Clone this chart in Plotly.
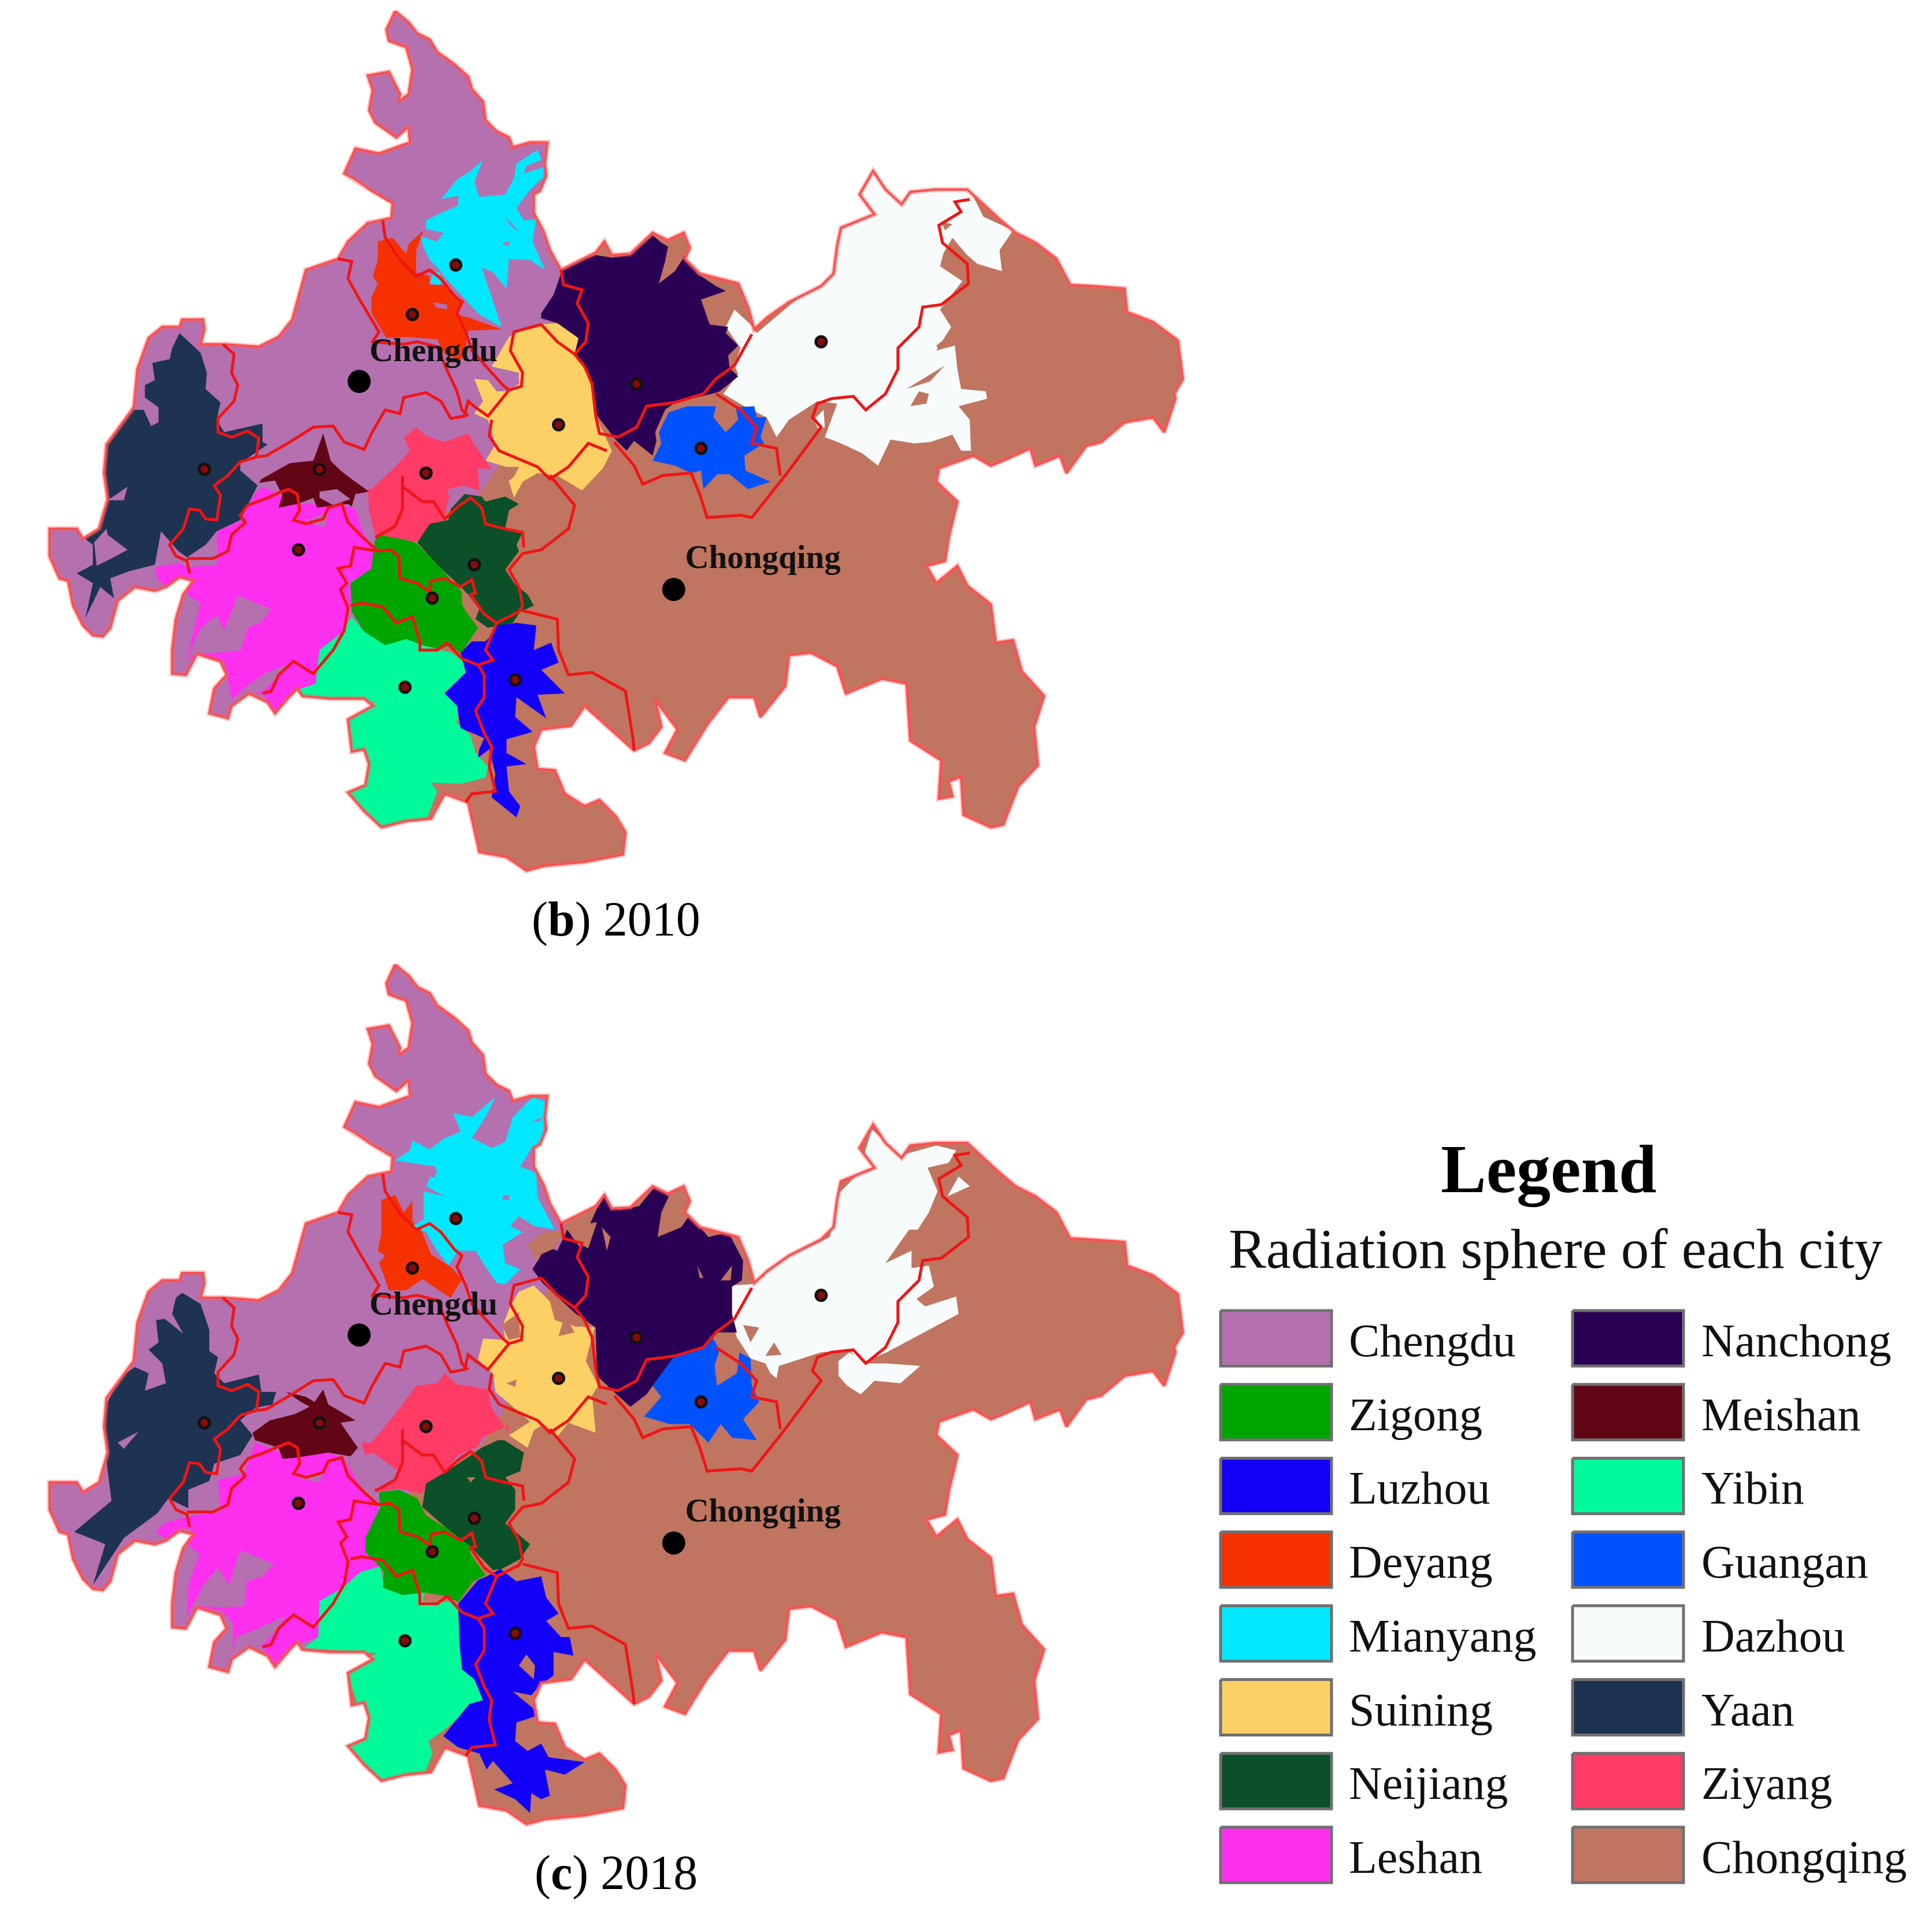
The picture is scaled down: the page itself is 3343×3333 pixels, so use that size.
import plotly.graph_objects as go

OUTLINE = [(319, 9), (330, 18), (337, 27), (347, 32), (353, 42), (367, 52), (378, 62), (381, 72), (390, 82), (392, 97),
           (401, 106), (411, 111), (414, 119), (428, 115), (442, 115), (440, 132), (441, 142), (436, 154), (431, 157),
           (431, 172), (439, 187), (444, 202), (453, 218), (467, 211), (481, 204), (488, 195), (494, 206), (509, 205),
           (527, 188), (539, 194), (552, 188), (557, 200), (553, 209), (565, 221), (580, 225), (596, 229), (604, 248),
           (609, 266), (620, 256), (637, 244), (663, 231), (673, 221), (676, 198), (679, 184), (706, 173), (694, 157),
           (705, 138), (715, 153), (728, 165), (735, 155), (755, 153), (781, 153), (807, 177), (820, 188), (836, 196),
           (853, 209), (864, 230), (882, 231), (908, 233), (910, 252), (931, 260), (951, 275), (955, 306), (948, 318),
           (949, 322), (940, 349), (931, 337), (908, 341), (889, 357), (877, 360), (861, 382), (856, 368), (836, 376),
           (832, 362), (810, 372), (800, 376), (786, 368), (758, 378), (756, 389), (773, 405), (766, 434), (763, 453),
           (748, 457), (756, 471), (773, 457), (781, 473), (800, 488), (804, 519), (818, 517), (825, 542), (843, 562),
           (835, 587), (838, 618), (822, 635), (810, 666), (800, 668), (778, 658), (776, 627), (766, 631), (769, 643),
           (758, 645), (760, 614), (735, 598), (732, 552), (712, 548), (683, 560), (676, 538), (655, 527), (637, 529),
           (634, 554), (614, 579), (609, 563), (588, 563), (571, 585), (553, 614), (537, 608), (547, 589), (529, 565),
           (534, 587), (524, 600), (512, 606), (486, 583), (472, 570), (461, 586), (437, 589), (431, 603), (434, 621),
           (448, 622), (456, 641), (472, 651), (484, 646), (497, 659), (505, 672), (503, 690), (472, 696), (440, 699),
           (425, 703), (409, 692), (387, 688), (383, 670), (378, 648), (359, 641), (348, 661), (328, 663), (308, 668),
           (294, 655), (281, 640), (295, 634), (298, 617), (294, 605), (284, 607), (281, 581), (301, 570), (294, 564),
           (266, 564), (244, 562), (240, 556), (234, 562), (222, 576), (216, 567), (201, 560), (187, 570), (184, 580),
           (169, 576), (173, 556), (183, 545), (178, 534), (159, 528), (150, 545), (139, 544), (139, 525), (142, 500),
           (148, 480), (156, 469), (145, 466), (134, 474), (125, 477), (109, 474), (95, 485), (89, 507), (83, 514),
           (75, 513), (67, 505), (59, 489), (55, 469), (48, 467), (40, 449), (40, 427), (62, 427), (67, 435), (80, 427),
           (87, 403), (84, 382), (86, 359), (101, 339), (108, 329), (111, 298), (120, 273), (131, 264), (145, 264),
           (147, 258), (164, 258), (165, 266), (162, 278), (181, 278), (209, 280), (225, 272), (236, 258), (247, 218),
           (273, 209), (281, 195), (297, 180), (316, 176), (317, 164), (300, 154), (287, 145), (278, 140), (287, 120),
           (306, 124), (331, 115), (330, 102), (320, 111), (303, 99), (298, 89), (301, 73), (297, 61), (314, 58),
           (323, 76), (322, 82), (330, 76), (333, 56), (328, 38), (314, 33), (312, 24), (319, 9)]

WEST = [(0, 0), (470, 0), (458, 215), (445, 262), (405, 372), (388, 398), (340, 425), (300, 470), (285, 520),
        (230, 640), (0, 640)]

BORDERS = [
    [(180, 278), (189, 286), (187, 301), (192, 311), (189, 324), (176, 338), (176, 349), (187, 353), (200, 348),
     (209, 354), (207, 369), (194, 373), (184, 384), (173, 392), (178, 400), (175, 420), (166, 419), (161, 412),
     (153, 411), (148, 427), (137, 440), (142, 449), (151, 453), (153, 463)],
    [(151, 451), (172, 451), (184, 445), (187, 432), (198, 422), (194, 416), (200, 408), (216, 402), (225, 398),
     (233, 395), (240, 399), (242, 412), (237, 420), (247, 423), (261, 419), (265, 410), (276, 407), (281, 422),
     (294, 435), (305, 445)],
    [(207, 369), (215, 368), (234, 357), (253, 345), (269, 344), (278, 357), (294, 363), (300, 350), (311, 331),
     (323, 334), (326, 321), (344, 317), (356, 324), (364, 338), (375, 336), (378, 324), (384, 329), (394, 336),
     (411, 315), (421, 312), (422, 301), (412, 283), (415, 268), (437, 262)],
    [(273, 209), (284, 211), (281, 225), (291, 243), (300, 258), (306, 268), (301, 276), (325, 278), (337, 276),
     (353, 280), (361, 299), (369, 316), (373, 331), (378, 336)],
    [(309, 178), (311, 192), (323, 210), (336, 223), (347, 218), (356, 225), (367, 239), (373, 244), (369, 253),
     (376, 268), (381, 283), (394, 298), (406, 311), (411, 315)],
    [(453, 218), (455, 230), (470, 234), (466, 245), (475, 261), (473, 276), (464, 286)],
    [(437, 262), (450, 276), (464, 286), (472, 296), (478, 310), (481, 336), (484, 350), (499, 353), (514, 345),
     (522, 328), (545, 325), (568, 318), (578, 306), (593, 295), (607, 270)],
    [(496, 357), (512, 376), (519, 391), (535, 384), (558, 382), (565, 399), (571, 418), (598, 416), (607, 418),
     (634, 384), (663, 345), (656, 337), (660, 326), (671, 322), (689, 320), (699, 331), (715, 318), (725, 298),
     (725, 281), (742, 264), (745, 248), (760, 246), (782, 229), (781, 213), (761, 196), (758, 182), (776, 171),
     (771, 163), (783, 161)],
    [(578, 318), (598, 331), (611, 345), (607, 358), (627, 362), (630, 384)],
    [(397, 339), (395, 352), (403, 364), (422, 372), (434, 377), (444, 387), (459, 377), (475, 358), (490, 364)],
    [(444, 384), (464, 408), (459, 427), (437, 444), (422, 447), (411, 460), (419, 474), (422, 489), (419, 494),
     (401, 503), (391, 496), (380, 480), (384, 479), (381, 468), (372, 474), (359, 467), (348, 469), (347, 478),
     (337, 471), (323, 467), (322, 449), (315, 444), (305, 445)],
    [(325, 384), (325, 411), (319, 425), (303, 434)],
    [(325, 393), (341, 405), (350, 405), (359, 419), (370, 409), (380, 402), (389, 410), (392, 423), (403, 426),
     (422, 430), (423, 442)],
    [(283, 489), (292, 487), (309, 490), (320, 503), (333, 498), (339, 518), (339, 525), (353, 525), (361, 519),
     (373, 532), (386, 537), (398, 533), (392, 525), (401, 503)],
    [(305, 445), (286, 442), (283, 457), (273, 459), (280, 471), (275, 476), (281, 491), (278, 509), (269, 525),
     (253, 544), (237, 534), (225, 545), (219, 558), (212, 560)],
    [(386, 537), (391, 545), (391, 563), (384, 574), (391, 592), (397, 603), (395, 619), (400, 639), (381, 641),
     (376, 648)],
    [(422, 493), (450, 500), (451, 525), (459, 545), (478, 543), (494, 552), (505, 558), (511, 596), (512, 606)],
]

# 2010 spheres
LESHAN_2010 = [(205, 400), (212, 393), (223, 398), (240, 407), (275, 407), (287, 411), (292, 427), (305, 451),
               (300, 461), (283, 469), (283, 489), (278, 509), (272, 513), (258, 525), (255, 543), (256, 554),
               (240, 557), (222, 577), (212, 560), (201, 560), (187, 565), (184, 550), (181, 534), (151, 532),
               (156, 510), (162, 487), (151, 480), (151, 470), (147, 469), (137, 475), (128, 469), (125, 458),
               (145, 455), (151, 458), (175, 456), (176, 449), (175, 429), (194, 421)]
LESHAN_HOLES_2010 = [[(175, 497), (181, 509), (192, 481), (219, 492), (211, 502), (200, 507), (194, 525), (178, 527),
                      (159, 528), (151, 532), (162, 507)],
                     [(187, 565), (197, 556), (215, 543), (231, 537), (222, 549), (212, 558)],
                     [(247, 421), (265, 413), (262, 426)]]
YAAN_2010 = [(145, 269), (162, 285), (167, 301), (166, 314), (178, 325), (175, 339), (181, 349), (212, 342),
             (212, 357), (216, 359), (194, 374), (194, 380), (208, 392), (194, 420), (175, 429), (166, 440),
             (151, 450), (144, 445), (130, 429), (125, 456), (105, 461), (89, 467), (92, 483), (81, 474), (69, 499),
             (75, 471), (62, 463), (75, 456), (75, 440), (61, 429), (67, 435), (80, 427), (86, 402), (84, 382),
             (86, 359), (103, 331), (116, 331), (122, 344), (128, 341), (128, 329), (117, 321), (117, 311),
             (125, 307), (123, 293), (137, 290), (139, 281)]
YAAN_HOLES_2010 = [[(87, 404), (103, 393), (100, 404)],
                   [(83, 413), (87, 432), (103, 444), (92, 450), (78, 457), (76, 438), (86, 427)]]
MEISHAN_2010 = [(261, 350), (253, 372), (234, 374), (211, 387), (209, 390), (222, 388), (228, 400), (225, 410),
                (240, 407), (253, 402), (256, 410), (270, 408), (281, 407), (284, 409), (287, 399), (298, 397),
                (284, 387), (275, 380), (267, 372)]
MEISHAN_HOLES_2010 = [[(258, 397), (272, 395), (283, 403), (269, 408), (258, 402)]]
ZIYANG_2010 = [(336, 345), (344, 352), (359, 357), (378, 350), (383, 359), (397, 379), (386, 378), (387, 396),
               (365, 395), (361, 407), (359, 418), (336, 437), (309, 438), (303, 432), (298, 413), (297, 395),
               (300, 395), (319, 377), (331, 364), (326, 354)]
ZIYANG_HOLES_2010 = [[(361, 395), (375, 392), (386, 396), (364, 407)]]
NEIJIANG_2010 = [(364, 411), (375, 399), (389, 401), (392, 405), (408, 401), (419, 407), (411, 412), (408, 426),
                 (422, 430), (417, 440), (419, 445), (408, 460), (416, 472), (426, 480), (431, 489), (420, 494),
                 (414, 503), (394, 507), (384, 500), (387, 492), (378, 480), (369, 471), (353, 456), (337, 438),
                 (347, 423), (362, 420)]
ZIGONG_2010 = [(303, 436), (306, 432), (328, 436), (337, 439), (355, 458), (367, 471), (373, 478), (373, 487),
               (375, 492), (386, 507), (376, 522), (372, 528), (364, 521), (355, 524), (341, 521), (328, 516),
               (311, 521), (294, 510), (284, 494), (283, 471), (300, 459), (301, 448)]
YIBIN_2010 = [(284, 498), (294, 510), (311, 521), (328, 516), (341, 521), (364, 527), (381, 538), (372, 549),
              (359, 559), (370, 570), (369, 584), (380, 594), (384, 608), (394, 619), (392, 628), (372, 633),
              (348, 632), (353, 639), (344, 663), (309, 672), (278, 639), (284, 596), (278, 578), (303, 567),
              (247, 565), (240, 557), (255, 552), (258, 525), (275, 512)]
LUZHOU_2010 = [(401, 505), (417, 503), (433, 505), (431, 525), (445, 519), (451, 535), (437, 541), (456, 560),
               (434, 561), (441, 580), (417, 563), (416, 579), (430, 591), (409, 597), (409, 608), (425, 617),
               (409, 619), (411, 639), (420, 651), (417, 660), (397, 644), (400, 625), (395, 605), (386, 612),
               (387, 605), (391, 596), (372, 588), (369, 570), (359, 560), (376, 543), (372, 527), (381, 518),
               (392, 518), (400, 509)]
DEYANG_2010 = [(305, 195), (317, 192), (328, 205), (330, 197), (342, 186), (336, 202), (336, 220), (347, 223),
               (347, 230), (359, 230), (367, 239), (375, 243), (369, 254), (380, 257), (405, 266), (378, 267),
               (376, 281), (372, 291), (359, 286), (353, 274), (328, 272), (312, 273), (306, 263), (300, 253),
               (300, 240), (305, 229), (301, 223), (305, 210)]
DEYANG_HOLES_2010 = [[(350, 244), (361, 246), (361, 250), (352, 248)]]
MIANYANG_2010 = [(390, 129), (383, 147), (387, 159), (408, 157), (415, 144), (417, 132), (434, 121), (437, 129),
                 (425, 134), (423, 140), (439, 135), (439, 143), (428, 153), (417, 168), (423, 178), (433, 177),
                 (430, 195), (440, 218), (428, 210), (411, 209), (409, 233), (398, 220), (389, 216), (395, 234),
                 (405, 264), (387, 254), (373, 239), (359, 224), (355, 218), (347, 210), (342, 200), (340, 191),
                 (353, 195), (358, 188), (344, 185), (344, 178), (356, 172), (370, 166), (370, 158), (356, 161),
                 (369, 145), (380, 138)]
MIANYANG_BIT_2010 = [(347, 229), (350, 220), (355, 220), (356, 230)]
MIANYANG_HOLES_2010 = [[(408, 175), (420, 188), (412, 182)], [(405, 196), (412, 195), (410, 199)]]
SUINING_2010 = [(419, 268), (436, 262), (450, 261), (467, 273), (464, 285), (475, 301), (480, 319), (481, 336),
                (494, 364), (487, 378), (470, 396), (450, 384), (434, 382), (422, 389), (415, 402), (411, 389),
                (403, 382), (412, 378), (392, 372), (400, 359), (394, 339), (383, 334), (390, 324), (383, 306),
                (394, 307), (401, 316), (409, 316), (419, 310), (419, 301), (397, 296), (411, 272)]
SUINING_HOLES_2010 = [[(392, 395), (406, 377), (419, 377), (415, 385), (403, 395)],
                      [(428, 395), (440, 382), (448, 395)]]
NANCHONG_2010 = [(437, 253), (447, 238), (456, 212), (467, 211), (481, 206), (494, 208), (509, 206), (527, 190),
                 (534, 196), (555, 208), (563, 221), (578, 231), (586, 235), (566, 242), (573, 262), (588, 264),
                 (586, 269), (596, 279), (588, 287), (589, 297), (596, 304), (581, 316), (575, 318), (545, 325),
                 (537, 331), (529, 349), (530, 356), (527, 368), (512, 356), (506, 364), (498, 356), (480, 333),
                 (478, 310), (472, 296), (464, 286), (467, 274), (450, 261), (437, 257)]
NANCHONG_HOLES_2010 = [[(540, 196), (555, 190), (557, 200), (545, 219), (532, 229), (537, 211)]]
GUANGAN_2010 = [(532, 349), (540, 333), (555, 328), (578, 328), (576, 337), (586, 349), (596, 339), (594, 329),
                (609, 328), (611, 337), (619, 337), (614, 353), (617, 358), (601, 368), (602, 380), (622, 389),
                (604, 395), (589, 383), (579, 383), (568, 395), (566, 380), (558, 382), (545, 376), (527, 372),
                (534, 358)]
DAZHOU_2010 = [(586, 264), (593, 250), (606, 262), (611, 269), (663, 225), (670, 217), (673, 192), (689, 175),
               (692, 155), (706, 132), (728, 159), (758, 148), (781, 150), (786, 159), (794, 175), (818, 186),
               (807, 202), (809, 219), (789, 213), (781, 206), (769, 192), (762, 204), (759, 215), (777, 227),
               (759, 250), (768, 264), (756, 283), (771, 279), (773, 298), (776, 314), (796, 316), (797, 322),
               (774, 328), (783, 339), (784, 364), (776, 364), (769, 351), (751, 357), (738, 358), (719, 355),
               (709, 376), (696, 366), (679, 358), (666, 353), (676, 326), (660, 324), (637, 339), (627, 353),
               (619, 337), (601, 328), (584, 318), (596, 302), (593, 295), (598, 281)]
DAZHOU_BIT_2010 = [(657, 339), (665, 331), (666, 345), (661, 347)]
DAZHOU_HOLES_2010 = [[(732, 314), (763, 295), (751, 308)], [(735, 328), (742, 316), (750, 318), (748, 326)],
                     [(756, 279), (766, 271), (758, 283)], [(760, 179), (769, 181), (763, 186)]]

# 2018 spheres
LESHAN_2018 = [(206, 395), (224, 402), (260, 402), (277, 407), (295, 436), (306, 447), (298, 468), (295, 483),
               (307, 494), (288, 502), (277, 512), (260, 523), (258, 552), (242, 557), (221, 577), (212, 560),
               (203, 558), (188, 564), (188, 541), (179, 531), (160, 528), (151, 536), (152, 510), (161, 485),
               (151, 477), (155, 465), (146, 464), (136, 474), (126, 468), (132, 460), (154, 454), (178, 451),
               (176, 425), (197, 420)]
LESHAN_HOLES_2018 = [[(194, 482), (221, 493), (212, 503), (199, 507), (197, 527), (181, 528), (160, 527), (151, 536),
                      (164, 510), (176, 496), (185, 510)],
                     [(188, 564), (191, 552), (206, 546), (230, 535), (221, 549), (212, 558)],
                     [(239, 423), (262, 418), (266, 412), (257, 427)]]
YAAN_2018 = [(147, 274), (162, 283), (169, 304), (169, 321), (176, 326), (173, 339), (181, 347), (209, 340),
             (211, 354), (223, 354), (220, 364), (206, 367), (194, 377), (204, 389), (194, 405), (173, 412),
             (169, 426), (152, 433), (152, 448), (136, 440), (127, 452), (100, 472), (75, 510), (85, 477), (60, 467),
             (90, 442), (86, 410), (84, 382), (86, 364), (97, 342), (109, 334), (120, 339), (117, 353), (134, 347),
             (131, 331), (120, 320), (128, 314), (126, 296), (133, 295), (148, 307), (139, 291), (142, 278)]
YAAN_HOLES_2018 = [[(95, 395), (112, 386), (100, 400)]]
MEISHAN_2018 = [(261, 352), (265, 364), (287, 377), (275, 379), (286, 395), (289, 399), (283, 406), (265, 403),
                (240, 407), (228, 408), (225, 399), (206, 393), (204, 387), (218, 377), (238, 372), (250, 366),
                (243, 362), (231, 354), (247, 358), (254, 362)]
ZIYANG_2018 = [(359, 339), (369, 348), (378, 349), (394, 352), (397, 367), (411, 387), (410, 381), (389, 391),
               (386, 398), (370, 405), (361, 416), (340, 436), (322, 432), (303, 435), (294, 402), (292, 395),
               (300, 395), (323, 367), (336, 349), (353, 347)]
ZIYANG_HOLES_2018 = [[(288, 407), (301, 403), (322, 418), (319, 424), (304, 433), (291, 418)]]
NEIJIANG_2018 = [(389, 399), (402, 393), (407, 393), (423, 403), (420, 418), (408, 423), (416, 433), (416, 449),
                 (408, 460), (428, 477), (420, 489), (405, 497), (398, 498), (379, 478), (365, 468), (341, 447),
                 (344, 428), (364, 416), (379, 406)]
NEIJIANG_HOLES_2018 = [[(377, 423), (384, 423), (380, 427)]]
ZIGONG_2018 = [(306, 435), (322, 433), (337, 440), (344, 454), (362, 465), (379, 478), (380, 485), (392, 502),
               (382, 507), (370, 524), (361, 519), (343, 516), (325, 518), (309, 512), (310, 499), (295, 483),
               (295, 472), (307, 447)]
YIBIN_2018 = [(307, 495), (310, 510), (325, 518), (343, 516), (341, 523), (355, 524), (364, 523), (370, 531),
              (371, 557), (373, 578), (383, 586), (390, 603), (379, 606), (370, 617), (361, 625), (346, 636),
              (349, 646), (343, 662), (307, 672), (277, 638), (288, 604), (280, 581), (304, 565), (245, 561),
              (257, 552), (258, 523), (277, 512), (288, 502), (292, 499)]
LUZHOU_2018 = [(404, 497), (417, 507), (437, 503), (441, 520), (451, 533), (441, 539), (453, 552), (460, 552),
               (463, 567), (447, 564), (447, 583), (435, 592), (429, 599), (414, 596), (431, 610), (432, 616),
               (417, 621), (416, 636), (426, 644), (437, 638), (443, 649), (472, 653), (456, 663), (440, 659),
               (444, 680), (437, 683), (429, 678), (428, 694), (416, 683), (399, 675), (414, 670), (398, 652),
               (393, 659), (387, 646), (370, 641), (358, 632), (370, 617), (379, 606), (390, 603), (383, 586),
               (373, 578), (371, 557), (370, 525), (386, 506), (393, 503)]
LUZHOU_HOLES_2018 = [[(419, 575), (425, 566), (432, 575), (431, 586)]]
DEYANG_2018 = [(308, 199), (319, 195), (326, 209), (333, 200), (333, 216), (341, 225), (348, 243), (364, 253),
               (373, 263), (364, 278), (356, 273), (341, 263), (328, 272), (314, 272), (311, 263), (306, 250),
               (311, 244), (305, 240), (308, 225)]
MIANYANG_2018 = [(400, 116), (392, 132), (381, 149), (397, 157), (408, 152), (414, 132), (430, 116), (440, 119),
                 (439, 142), (437, 153), (430, 156), (420, 172), (433, 177), (434, 197), (448, 223), (431, 220),
                 (419, 212), (412, 220), (422, 225), (406, 235), (408, 250), (420, 255), (408, 267), (401, 266),
                 (390, 250), (384, 240), (370, 240), (362, 252), (353, 240), (344, 225), (333, 220), (342, 215),
                 (342, 192), (359, 196), (344, 188), (351, 172), (319, 167), (331, 159), (333, 151), (347, 158),
                 (359, 149), (372, 144), (366, 129), (381, 132)]
MIANYANG_HOLES_2018 = [[(347, 180), (351, 172), (353, 176), (350, 181)], [(428, 137), (437, 132), (436, 135)],
                       [(406, 195), (411, 195), (411, 199), (406, 199)]]
SUINING_2018 = [(419, 273), (431, 268), (444, 281), (448, 296), (464, 301), (480, 302), (473, 329), (483, 349),
                (478, 357), (481, 387), (459, 379), (450, 390), (439, 380), (431, 385), (426, 399), (411, 389),
                (428, 378), (412, 364), (400, 354), (398, 339), (386, 328), (390, 311), (408, 312), (406, 300),
                (412, 285)]
SUINING_HOLES_2018 = [[(405, 300), (419, 290), (420, 310), (411, 312)], [(451, 309), (456, 292), (464, 306)],
                      [(409, 347), (417, 344), (416, 350)]]
NANCHONG_2018 = [(430, 255), (437, 243), (437, 235), (450, 240), (458, 223), (468, 237), (482, 206), (488, 196),
                 (500, 207), (516, 204), (529, 188), (540, 196), (534, 209), (531, 229), (550, 221), (557, 211),
                 (572, 229), (588, 225), (600, 248), (599, 264), (591, 269), (591, 291), (595, 306), (577, 306),
                 (568, 318), (556, 321), (527, 349), (522, 356), (509, 366), (500, 358), (482, 341), (481, 302),
                 (465, 291), (438, 266)]
NANCHONG_HOLES_2018 = [[(457, 221), (482, 217), (475, 238), (465, 233)], [(486, 221), (493, 229), (490, 240)],
                       [(563, 252), (568, 262), (565, 262)], [(582, 264), (591, 252), (590, 264)],
                       [(426, 235), (439, 225), (456, 224), (448, 238), (437, 243), (434, 249)]]
GUANGAN_2018 = [(527, 349), (543, 327), (568, 318), (574, 308), (581, 320), (577, 333), (579, 349), (595, 339),
                (597, 322), (606, 327), (607, 349), (613, 362), (600, 376), (611, 393), (591, 391), (582, 380),
                (572, 395), (557, 380), (541, 380), (520, 374), (534, 358)]
DAZHOU_2018 = [(591, 268), (607, 267), (634, 246), (670, 229), (677, 194), (693, 178), (704, 142), (727, 163),
               (756, 155), (772, 159), (766, 169), (749, 173), (757, 192), (750, 209), (741, 223), (734, 223),
               (715, 250), (736, 240), (736, 254), (750, 252), (754, 269), (740, 279), (747, 285), (772, 277),
               (774, 291), (761, 298), (716, 322), (695, 331), (686, 320), (663, 322), (641, 329), (629, 333),
               (627, 343), (622, 339), (618, 331), (606, 327), (595, 310), (591, 298)]
DAZHOU_BIT_2018 = [(677, 329), (686, 322), (699, 331), (716, 331), (743, 333), (727, 347), (706, 345), (695, 356),
                   (684, 349), (677, 341)]
DAZHOU_BIT2_2018 = [(774, 180), (783, 188), (765, 196)]
DAZHOU_HOLES_2018 = [[(618, 325), (625, 314), (631, 324)], [(613, 302), (606, 314), (600, 300)]]

CITY_X = [368, 333, 514, 451, 566, 663, 165, 258, 344, 241, 349, 383, 327, 416]
CITY_Y = [214, 254, 310, 343, 362, 276, 379, 379, 382, 444, 483, 456, 555, 549]
BIG_X = [290, 544]
BIG_Y = [308, 476]
BIG_NAMES = ['Chengdu', 'Chongqing']
BIG_LABEL_X = [350, 616]
BIG_LABEL_Y = [285, 452]

LEGEND_LEFT = ['Chengdu', 'Zigong', 'Luzhou', 'Deyang', 'Mianyang', 'Suining', 'Neijiang', 'Leshan']
LEGEND_RIGHT = ['Nanchong', 'Meishan', 'Yibin', 'Guangan', 'Dazhou', 'Yaan', 'Ziyang', 'Chongqing']
COLORS = {'Chengdu': '#B570B0', 'Zigong': '#00A600', 'Luzhou': '#1200F8', 'Deyang': '#F53100', 'Mianyang': '#00E8FF',
          'Suining': '#FDD066', 'Neijiang': '#0B5028', 'Leshan': '#FF2FF0', 'Nanchong': '#2A0054', 'Meishan': '#620616',
          'Yibin': '#00FA9A', 'Guangan': '#0052FF', 'Dazhou': '#F8FBFB', 'Yaan': '#1E3252', 'Ziyang': '#FF3B66',
          'Chongqing': '#BF7560'}

W, H = 3343, 3333
PAD = 8  # the page's own body margin
UNIT = 2.143  # page pixels per map unit
PANEL_H = 730
PANEL_W = 975
SHIFT = 770  # panel c sits this far under panel b


def add_poly(fig, pts, color, yaxis):
    fig.add_trace(go.Scatter(x=[p[0] for p in pts], y=[p[1] for p in pts], mode='lines', fill='toself',
                             fillcolor=color, line=dict(width=0), hoverinfo='skip', xaxis='x', yaxis=yaxis))


def draw_panel(fig, yaxis, layers):
    add_poly(fig, OUTLINE, COLORS['Chongqing'], yaxis)
    add_poly(fig, WEST, COLORS['Chengdu'], yaxis)
    for pts, name in layers:
        add_poly(fig, pts, COLORS[name], yaxis)

    # white sheet with the region cut out, trims whatever runs past the edge
    mask_x = [0, 0, PANEL_W, PANEL_W, 0, None] + [p[0] for p in OUTLINE]
    mask_y = [0, PANEL_H, PANEL_H, 0, 0, None] + [p[1] for p in OUTLINE]
    fig.add_trace(go.Scatter(x=mask_x, y=mask_y, mode='lines', fill='toself', fillcolor='white', line=dict(width=0),
                             hoverinfo='skip', xaxis='x', yaxis=yaxis))

    bx, by = [], []
    for seg in BORDERS:
        bx += [p[0] for p in seg] + [None]
        by += [p[1] for p in seg] + [None]
    ox = [p[0] for p in OUTLINE]
    oy = [p[1] for p in OUTLINE]
    fig.add_trace(go.Scatter(x=ox, y=oy, mode='lines', line=dict(color='rgba(255,90,90,0.35)', width=9),
                             hoverinfo='skip', xaxis='x', yaxis=yaxis))
    fig.add_trace(go.Scatter(x=ox, y=oy, mode='lines', line=dict(color='#F85252', width=4),
                             hoverinfo='skip', xaxis='x', yaxis=yaxis))
    fig.add_trace(go.Scatter(x=bx, y=by, mode='lines', line=dict(color='#F01515', width=5), hoverinfo='skip',
                             xaxis='x', yaxis=yaxis))
    fig.add_trace(go.Scatter(x=CITY_X, y=CITY_Y, mode='markers',
                             marker=dict(size=18, color='#8A0A0A', line=dict(color='#111111', width=5)),
                             hoverinfo='skip', xaxis='x', yaxis=yaxis))
    fig.add_trace(go.Scatter(x=BIG_X, y=BIG_Y, mode='markers', marker=dict(size=40, color='black'),
                             hoverinfo='skip', xaxis='x', yaxis=yaxis))
    fig.add_trace(go.Scatter(x=BIG_LABEL_X, y=BIG_LABEL_Y, mode='text', text=BIG_NAMES,
                             textfont=dict(family='Liberation Serif', size=57, color='#111111', weight='bold'),
                             hoverinfo='skip', xaxis='x', yaxis=yaxis))


layers_2010 = [(LESHAN_2010, 'Leshan')] + [(p, 'Chengdu') for p in LESHAN_HOLES_2010] + [
    (YAAN_2010, 'Yaan')] + [(p, 'Chengdu') for p in YAAN_HOLES_2010] + [
    (ZIYANG_2010, 'Ziyang')] + [(p, 'Chengdu') for p in ZIYANG_HOLES_2010] + [
    (MEISHAN_2010, 'Meishan')] + [(p, 'Chengdu') for p in MEISHAN_HOLES_2010] + [
    (YIBIN_2010, 'Yibin'), (NEIJIANG_2010, 'Neijiang'), (ZIGONG_2010, 'Zigong'), (LUZHOU_2010, 'Luzhou'),
    (DEYANG_2010, 'Deyang')] + [(p, 'Chengdu') for p in DEYANG_HOLES_2010] + [
    (MIANYANG_2010, 'Mianyang'), (MIANYANG_BIT_2010, 'Mianyang')] + [(p, 'Chengdu') for p in MIANYANG_HOLES_2010] + [
    (DAZHOU_2010, 'Dazhou'), (DAZHOU_BIT_2010, 'Dazhou')] + [(p, 'Chongqing') for p in DAZHOU_HOLES_2010] + [
    (NANCHONG_2010, 'Nanchong')] + [(p, 'Chongqing') for p in NANCHONG_HOLES_2010] + [
    (SUINING_2010, 'Suining')] + [(p, 'Chongqing') for p in SUINING_HOLES_2010] + [
    (GUANGAN_2010, 'Guangan')]

layers_2018 = [(LESHAN_2018, 'Leshan')] + [(p, 'Chengdu') for p in LESHAN_HOLES_2018] + [
    (YAAN_2018, 'Yaan')] + [(p, 'Chengdu') for p in YAAN_HOLES_2018] + [
    (ZIYANG_2018, 'Ziyang')] + [(p, 'Chengdu') for p in ZIYANG_HOLES_2018] + [
    (MEISHAN_2018, 'Meishan'), (YIBIN_2018, 'Yibin'), (NEIJIANG_2018, 'Neijiang')] + [
    (p, 'Chongqing') for p in NEIJIANG_HOLES_2018] + [
    (ZIGONG_2018, 'Zigong'), (LUZHOU_2018, 'Luzhou')] + [(p, 'Chongqing') for p in LUZHOU_HOLES_2018] + [
    (DEYANG_2018, 'Deyang'), (MIANYANG_2018, 'Mianyang')] + [(p, 'Chengdu') for p in MIANYANG_HOLES_2018] + [
    (DAZHOU_2018, 'Dazhou'), (DAZHOU_BIT_2018, 'Dazhou'), (DAZHOU_BIT2_2018, 'Dazhou')] + [
    (p, 'Chongqing') for p in DAZHOU_HOLES_2018] + [
    (NANCHONG_2018, 'Nanchong')] + [(p, 'Chongqing') for p in NANCHONG_HOLES_2018] + [
    (SUINING_2018, 'Suining')] + [(p, 'Chongqing') for p in SUINING_HOLES_2018] + [
    (GUANGAN_2018, 'Guangan')]

fig = go.Figure()
draw_panel(fig, 'y', layers_2010)
draw_panel(fig, 'y2', layers_2018)

# legend swatches on a page-pixel axis
annotations = []
for names, left, text_x in [(LEGEND_LEFT, 2112, 2332), (LEGEND_RIGHT, 2721, 2942)]:
    for i, name in enumerate(names):
        mid = 2316 + i * 127.7
        fig.add_trace(go.Scatter(x=[left, left + 192, left + 192, left, left],
                                 y=[mid - 48, mid - 48, mid + 48, mid + 48, mid - 48],
                                 mode='lines', fill='toself', fillcolor=COLORS[name],
                                 line=dict(color='#707070', width=5), hoverinfo='skip', xaxis='x2', yaxis='y3'))
        annotations.append(dict(x=text_x, y=mid + 4, text=name, xanchor='left', yanchor='middle', showarrow=False,
                                xref='x2', yref='y3', font=dict(family='Liberation Serif', size=80, color='#111111')))
annotations.append(dict(x=2680, y=2023, text='<b>Legend</b>', xanchor='center', yanchor='middle', showarrow=False,
                        xref='x2', yref='y3', font=dict(family='Liberation Serif', size=118, color='black')))
annotations.append(dict(x=2692, y=2161, text='Radiation sphere of each city', xanchor='center', yanchor='middle',
                        showarrow=False, xref='x2', yref='y3',
                        font=dict(family='Liberation Serif', size=97, color='#111111')))
annotations.append(dict(x=1066, y=1591, text='(<b>b</b>) 2010', xanchor='center', yanchor='middle', showarrow=False,
                        xref='x2', yref='y3', font=dict(family='Liberation Serif', size=84, color='black')))
annotations.append(dict(x=1066, y=3241, text='(<b>c</b>) 2018', xanchor='center', yanchor='middle', showarrow=False,
                        xref='x2', yref='y3', font=dict(family='Liberation Serif', size=84, color='black')))

page_h = H - PAD
hidden = dict(visible=False, showgrid=False, zeroline=False)
fig.update_layout(
    width=W - PAD, height=page_h, margin=dict(l=0, r=0, t=0, b=0), paper_bgcolor='white',
    plot_bgcolor='rgba(0,0,0,0)', showlegend=False, annotations=annotations,
    xaxis=dict(domain=[0, 1], range=[PAD / UNIT, W / UNIT], **hidden),
    yaxis=dict(domain=[1 - (PANEL_H * UNIT - PAD) / page_h, 1], range=[PANEL_H, PAD / UNIT], anchor='x', **hidden),
    yaxis2=dict(domain=[1 - ((SHIFT + PANEL_H) * UNIT - PAD) / page_h, 1 - (SHIFT * UNIT - PAD) / page_h],
                range=[PANEL_H, 0], anchor='x', **hidden),
    xaxis2=dict(domain=[0, 1], range=[PAD, W], anchor='y3', **hidden),
    yaxis3=dict(domain=[0, 1], range=[H, PAD], anchor='x2', **hidden),
)
fig.write_html("out.html")
